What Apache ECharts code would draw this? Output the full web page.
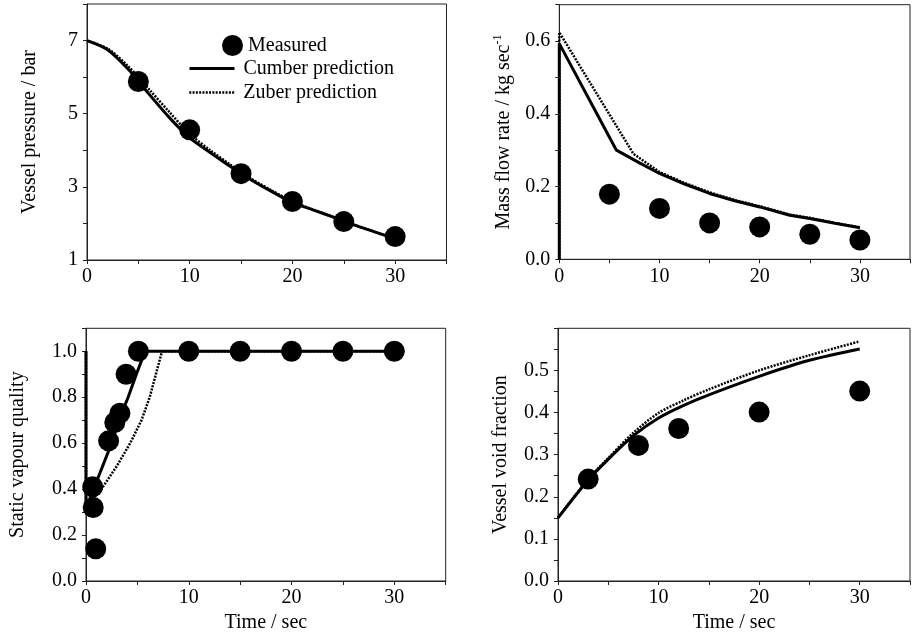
<!DOCTYPE html>
<html>
<head>
<meta charset="utf-8">
<script src="https://cdn.jsdelivr.net/npm/echarts@6/dist/echarts.min.js"></script>
<style>
  html, body { margin: 0; padding: 0; background: #fff; }
  #chart { width: 913px; height: 634px; }
</style>
</head>
<body>
<div id="chart"></div>
<script>
// vessel pressure (bar)
var pressMeasT = [5, 10, 15, 20, 25, 30];
var pressMeas = [5.88, 4.56, 3.36, 2.6, 2.05, 1.64];
var pressT = [0, 2, 4, 6, 8, 10, 12, 14, 16, 18, 20, 22, 24, 26, 28, 30];
var pressCumber = [7.0, 6.75, 6.22, 5.55, 4.9, 4.34, 3.94, 3.55, 3.19, 2.87, 2.57, 2.37, 2.17, 1.96, 1.77, 1.58];
var pressZuber = [7.0, 6.78, 6.3, 5.68, 5.05, 4.45, 4.0, 3.6, 3.22, 2.9, 2.6, 2.38, 2.17, 1.96, 1.77, 1.58];

// mass flow rate (kg/s)
var flowMeasT = [5, 10, 15, 20, 25, 30];
var flowMeas = [0.179, 0.14, 0.10, 0.089, 0.069, 0.053];
var flowCumberT = [0, 0, 5.7, 8, 10, 12.5, 15, 17.5, 20, 23, 25, 27.5, 30];
var flowCumber = [0, 0.593, 0.30, 0.265, 0.236, 0.207, 0.181, 0.161, 0.144, 0.121, 0.112, 0.099, 0.087];
var flowZuberT = [0, 0, 7.4, 10, 12.5, 15, 17.5, 20, 23, 25, 27.5, 30];
var flowZuber = [0, 0.624, 0.29, 0.24, 0.21, 0.184, 0.163, 0.146, 0.123, 0.114, 0.1, 0.088];

// static vapour quality
var qualMeasT = [0.65, 0.7, 0.95, 2.2, 2.8, 3.3, 3.9, 5.1, 10, 15, 20, 25, 30];
var qualMeas = [0.41, 0.32, 0.14, 0.61, 0.69, 0.73, 0.90, 1.0, 1.0, 1.0, 1.0, 1.0, 1.0];
var qualCumberT = [0, 0, 0.4, 1.0, 2.5, 3.2, 4.1, 4.9, 5.75, 30];
var qualCumber = [1.0, 0.3, 0.36, 0.43, 0.6, 0.7, 0.8, 0.9, 1.0, 1.0];
var qualZuberT = [0, 0, 0.3, 1.5, 3, 4.3, 5.4, 6.2, 6.8, 7.4, 30];
var qualZuber = [1.0, 0.3, 0.34, 0.4, 0.5, 0.6, 0.7, 0.8, 0.9, 1.0, 1.0];

// vessel void fraction
var voidMeasT = [3, 8, 12, 20, 30];
var voidMeas = [0.242, 0.322, 0.362, 0.401, 0.451];
var voidT = [0, 3, 5, 7.5, 10, 12.5, 15, 20, 25, 30];
var voidCumber = [0.15, 0.24, 0.289, 0.345, 0.387, 0.417, 0.442, 0.486, 0.524, 0.551];
var voidZuber = [0.15, 0.242, 0.292, 0.352, 0.399, 0.429, 0.455, 0.5, 0.536, 0.569];

var FONT = 'Liberation Serif';
var FS = 20;

var zip = function (xs, ys) {
  return xs.map(function (x, i) { return [x, ys[i]]; });
};

var xAxisFor = function (gi, withName) {
  return {
    type: 'value', gridIndex: gi, min: 0, max: 35, interval: 5,
    name: withName ? 'Time / sec' : '', nameLocation: 'middle', nameGap: 32,
    nameTextStyle: { fontFamily: FONT, fontSize: FS, color: '#000' },
    axisLine: { lineStyle: { color: '#222', width: 1 } },
    axisTick: { length: 4, lineStyle: { color: '#222' } },
    splitLine: { show: false },
    axisLabel: {
      margin: 7, fontFamily: FONT, fontSize: FS, color: '#000',
      formatter: function (v) { return v % 10 === 0 ? String(v) : ''; }
    }
  };
};

var yAxisFor = function (gi, name, gap, min, max, step, fmt) {
  return {
    type: 'value', gridIndex: gi, min: min, max: max, interval: step,
    name: name, nameLocation: 'middle', nameGap: gap,
    nameTextStyle: {
      fontFamily: FONT, fontSize: FS, color: '#000',
      rich: { sup: { fontFamily: FONT, fontSize: 12, color: '#000', padding: [0, 0, 10, 0] } }
    },
    axisLine: { lineStyle: { color: '#222', width: 1 } },
    axisTick: { length: 4, lineStyle: { color: '#222' } },
    splitLine: { show: false },
    axisLabel: { margin: 9, fontFamily: FONT, fontSize: FS, color: '#000', formatter: fmt }
  };
};

var evenTenth = function (v) {
  return Math.round(v * 10) % 2 === 0 ? v.toFixed(1) : '';
};

var cumberLine = { color: '#000', width: 3 };
var zuberLine = { color: '#000', width: 2.5, type: [2, 1.3] };

var cumber = function (gi, data, smooth) {
  return {
    name: 'Cumber prediction', type: 'line', xAxisIndex: gi, yAxisIndex: gi,
    data: data, symbol: 'none', smooth: smooth, z: 3,
    lineStyle: cumberLine, itemStyle: { color: '#000' }
  };
};
var zuber = function (gi, data, smooth) {
  return {
    name: 'Zuber prediction', type: 'line', xAxisIndex: gi, yAxisIndex: gi,
    data: data, symbol: 'none', smooth: smooth, z: 2,
    lineStyle: zuberLine, itemStyle: { color: '#000' }
  };
};
var measured = function (gi, data) {
  return {
    name: 'Measured', type: 'scatter', xAxisIndex: gi, yAxisIndex: gi,
    data: data, symbol: 'circle', symbolSize: 21, z: 4,
    itemStyle: { color: '#000', opacity: 1 }
  };
};

var legendText = { fontFamily: FONT, fontSize: FS, color: '#000' };
var legendTextPad = { fontFamily: FONT, fontSize: FS, color: '#000', padding: [0, 0, 0, 4] };

var option = {
  animation: false,
  backgroundColor: '#fff',
  grid: [
    { left: 87, top: 4, width: 359.5, height: 256, show: true, borderColor: '#222', borderWidth: 1 },
    { left: 559.3, top: 4.7, width: 361, height: 254.6, show: true, borderColor: '#222', borderWidth: 1 },
    { left: 86, top: 328.3, width: 359.7, height: 254.4, show: true, borderColor: '#222', borderWidth: 1 },
    { left: 558, top: 328.3, width: 361, height: 254.4, show: true, borderColor: '#222', borderWidth: 1 }
  ],
  legend: [
    { data: ['Measured'], left: 222, top: 35, padding: 0, itemWidth: 21, itemHeight: 21,
      itemStyle: { opacity: 1 }, textStyle: legendText },
    { data: ['Cumber prediction'], left: 188, top: 58.5, padding: 0, itemWidth: 45, itemHeight: 19,
      itemStyle: { opacity: 0 }, lineStyle: cumberLine, textStyle: legendTextPad },
    { data: ['Zuber prediction'], left: 188, top: 82.5, padding: 0, itemWidth: 45, itemHeight: 19,
      itemStyle: { opacity: 0 }, lineStyle: zuberLine, textStyle: legendTextPad }
  ],
  xAxis: [xAxisFor(0, false), xAxisFor(1, false), xAxisFor(2, true), xAxisFor(3, true)],
  yAxis: [
    yAxisFor(0, 'Vessel pressure / bar', 47, 1, 8, 1, function (v) {
      return (v % 2 === 1 && v < 8) ? String(v) : '';
    }),
    yAxisFor(1, 'Mass flow rate / kg sec{sup|-1}', 45, 0, 0.7, 0.1, evenTenth),
    yAxisFor(2, 'Static vapour quality', 58, 0, 1.1, 0.1, evenTenth),
    yAxisFor(3, 'Vessel void fraction', 47, 0, 0.6, 0.05, function (v) {
      var t = v * 10;
      return (Math.abs(t - Math.round(t)) < 1e-6 && v < 0.59) ? v.toFixed(1) : '';
    })
  ],
  series: [
    zuber(0, zip(pressT, pressZuber), 0.3),
    cumber(0, zip(pressT, pressCumber), 0.3),
    measured(0, zip(pressMeasT, pressMeas)),

    zuber(1, zip(flowZuberT, flowZuber), false),
    cumber(1, zip(flowCumberT, flowCumber), false),
    measured(1, zip(flowMeasT, flowMeas)),

    zuber(2, zip(qualZuberT, qualZuber), false),
    cumber(2, zip(qualCumberT, qualCumber), false),
    measured(2, zip(qualMeasT, qualMeas)),

    zuber(3, zip(voidT, voidZuber), 0.3),
    cumber(3, zip(voidT, voidCumber), 0.3),
    measured(3, zip(voidMeasT, voidMeas))
  ]
};

var chart = echarts.init(document.getElementById('chart'));
chart.setOption(option);
</script>
</body>
</html>
